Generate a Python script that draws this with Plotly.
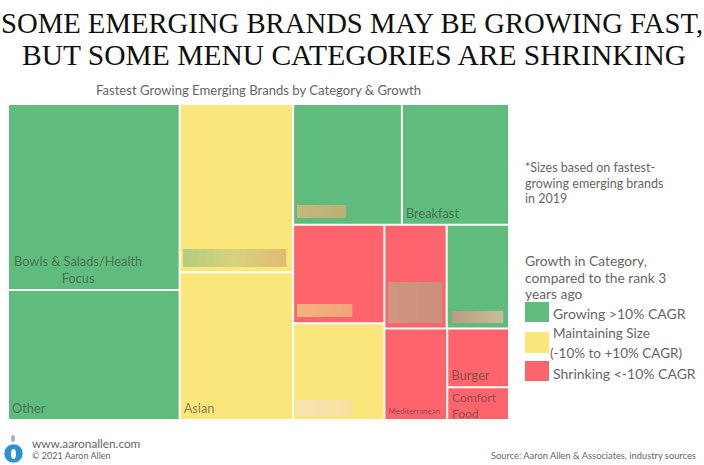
import plotly.graph_objects as go

# --- data (tile sizes, arbitrary area units) ---
ROOT = "All brands"
labels = [ROOT,
          "Col 1", "Bowls & Salads/Health Focus", "Other",
          "Col 2", "Asian (upper)", "Asian",
          "Col 3", "Top row", "Growing A", "Breakfast",
          "Lower block", "Stack A", "Shrinking A", "Maintaining A",
          "Stack B", "Row B1", "Shrinking B", "Growing B",
          "Row B2", "Mediterranean", "Stack C", "Burger", "Comfort Food"]
parents = ["",
           ROOT, "Col 1", "Col 1",
           ROOT, "Col 2", "Col 2",
           ROOT, "Col 3", "Top row", "Top row",
           "Col 3", "Lower block", "Stack A", "Stack A",
           "Lower block", "Stack B", "Row B1", "Row B1",
           "Stack B", "Row B2", "Row B2", "Stack C", "Stack C"]
values = [0,
          0, 316, 221,
          0, 189, 166,
          0, 0, 130, 128,
          0, 0, 89, 87.5,
          0, 0, 64, 64,
          0, 57, 0, 36, 20]
status = ["", "", "g", "g", "", "y", "y", "", "", "g", "g",
          "", "", "r", "y", "", "", "r", "g", "", "r", "", "r", "r"]
tile_text = ["", "", "", "Other", "", "", "Asian", "", "",
             "", "Breakfast", "", "", "", "", "", "", "", "", "", "Mediterranean", "",
             "Burger", ""]
tile_size = [12, 12, 12.5, 12.8, 12, 12, 12.8, 12, 12, 12, 12.8, 12, 12, 12, 12, 12, 12, 12, 12, 12, 8, 12, 13, 12]
palette = {"g": "#60BC7D", "y": "#FBE67B", "r": "#FE646C", "": "#FFFFFF"}

legend_items = ["Growing >10% CAGR", "Maintaining Size", "(-10% to +10% CAGR)", "Shrinking <-10% CAGR"]

TXT = "#666666"
TILE_TXT = "rgba(60,60,60,0.62)"
SANS = "Lato"
W, H = 704, 465

def px(x): return x / W
def py(y): return 1 - y / H

fig = go.Figure(go.Treemap(
    labels=labels, parents=parents, values=values, text=tile_text,
    textinfo="text", textposition="bottom left", sort=False,
    branchvalues="remainder", hoverinfo="skip",
    textfont=dict(family=SANS, size=tile_size, color=TILE_TXT),
    marker=dict(colors=[palette[s] for s in status], line=dict(width=0),
                pad=dict(t=0, l=0, r=0, b=0)),
    tiling=dict(packing="slice-dice", pad=2),
    pathbar=dict(visible=False),
    domain=dict(x=[px(9), px(508)], y=[py(419), py(105)]),
))

shapes = []
def rect(x0, y0, x1, y1, color):
    shapes.append(dict(type="rect", xref="paper", yref="paper", x0=px(x0), x1=px(x1),
                       y0=py(y0), y1=py(y1), fillcolor=color, line=dict(width=0), layer="above"))

def rgb(h):
    return [int(h[i:i + 2], 16) for i in (1, 3, 5)]

def fade(x0, y0, x1, y1, stops):
    # soft left-to-right colour wash for the blurred-out logos
    n = int(x1 - x0)
    for i in range(n):
        t = i / max(n - 1, 1) * (len(stops) - 1)
        k = min(int(t), len(stops) - 2)
        f = t - k
        a, b = rgb(stops[k]), rgb(stops[k + 1])
        c = [round(a[j] + (b[j] - a[j]) * f) for j in range(3)]
        rect(x0 + i, y0, x0 + i + 1.3, y1, "rgb(%d,%d,%d)" % tuple(c))

# blurred-out brand logos
fade(183, 249, 286, 267, ["#B5CC7E", "#D6D280", "#DFBC72"])
fade(297, 205, 346, 218, ["#C6B97C", "#B8B076"])
fade(297, 304, 352, 317, ["#F0B57C", "#F3A27A"])
fade(388, 282, 442, 323, ["#D0967F", "#CC8E7D"])
fade(452, 311, 503, 323, ["#BE9A82", "#C8BE9A"])
fade(296, 400, 352, 416, ["#F7E5B0", "#F7DFA0"])

# legend swatches
rect(525, 302, 549, 322, palette["g"])
rect(525, 332, 549, 353, palette["y"])
rect(525, 361, 549, 381, palette["r"])

# logo
def oval(x0, y0, x1, y1, fill, line=None):
    shapes.append(dict(type="circle", xref="paper", yref="paper", x0=px(x0), x1=px(x1), y0=py(y1), y1=py(y0),
                       fillcolor=fill, line=dict(color=line or fill, width=1 if line else 0), layer="above"))
oval(4, 444, 23, 463, "#2F8FD0", "#BFE0F2")
oval(11, 449, 16, 459, "#FFFFFF")
oval(11, 435, 15, 442, "#9FB4C0")

ann = []
def text(x, y, s, size, family=SANS, color=TXT, anchor="left", align="left"):
    if anchor == "left":
        x -= 2
    elif anchor == "right":
        x += 2
    ann.append(dict(xref="paper", yref="paper", x=px(x), y=py(y), text=s, showarrow=False,
                    xanchor=anchor, yanchor="middle", align=align,
                    font=dict(family=family, size=size, color=color)))

text(352, 23, "SOME EMERGING BRANDS MAY BE GROWING FAST,", 28.7, "Liberation Serif", "#111111", "center", "center")
text(354, 55, "BUT SOME MENU CATEGORIES ARE SHRINKING", 29.5, "Liberation Serif", "#111111", "center", "center")
text(258.5, 90, "Fastest Growing Emerging Brands by Category &amp; Growth", 13.1, anchor="center", align="center")
for y, line in zip([167, 183, 198], ["*Sizes based on fastest-", "growing emerging brands", "in 2019"]):
    text(525, y, line, 12.5)
for y, line in zip([260, 277, 293], ["Growth in Category,", "compared to the rank 3", "years ago"]):
    text(525, y, line, 13.8)
text(553, 313, legend_items[0], 14)
text(553, 333, legend_items[1], 13.5)
text(550, 353, legend_items[2], 13.5)
text(553, 373, legend_items[3], 14)
text(32, 443, "www.aaronallen.com", 11.8)
text(32, 455, "© 2021 Aaron Allen", 9)
text(696, 455, "Source: Aaron Allen &amp; Associates, industry sources", 9.3, anchor="right", align="right")

# tile labels that break across lines the way the picture does
text(78, 269, "Bowls &amp; Salads/Health<br>Focus", 12.8, color=TILE_TXT, anchor="center", align="center")
text(452, 397, "Comfort", 12, color=TILE_TXT)
text(452, 413, "Food", 12, color=TILE_TXT)

fig.update_layout(width=W, height=H, margin=dict(l=0, r=0, t=0, b=0),
                  paper_bgcolor="#FFFFFF", shapes=shapes, annotations=ann, showlegend=False)
fig.write_html("out.html", config=dict(displayModeBar=False), post_script="document.body.style.margin='0';")
